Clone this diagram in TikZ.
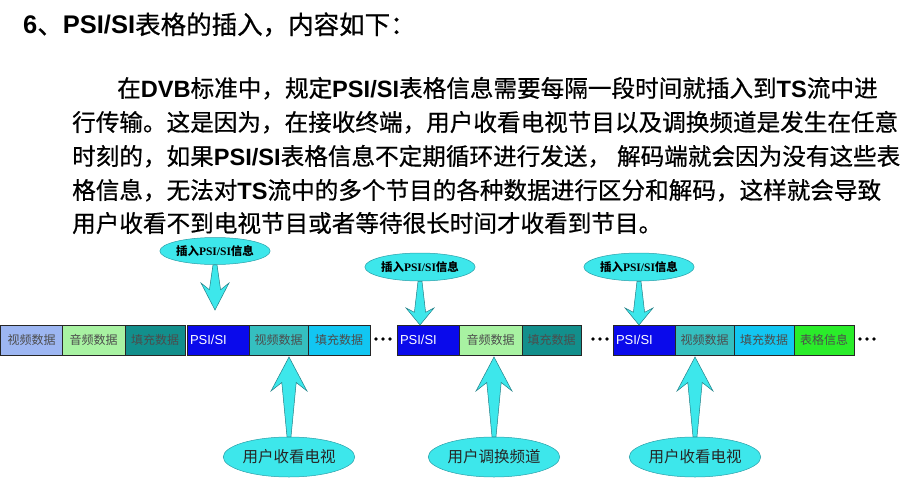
\documentclass[tikz,border=0pt]{standalone}
\usepackage{fontspec}
\setmainfont{Liberation Sans}
\newfontfamily\cjk{Noto Sans CJK SC}
\newfontfamily\cjkh[FakeBold=0.6]{Noto Sans CJK SC}
\newfontfamily\serlat{Liberation Serif}
\usetikzlibrary{calc,shapes.geometric}

\definecolor{vidblue}{HTML}{9DB6F2}
\definecolor{audgreen}{HTML}{A8F2A2}
\definecolor{fillteal}{HTML}{128F8C}
\definecolor{psiblue}{HTML}{0A0AEB}
\definecolor{vidteal}{HTML}{35BFC0}
\definecolor{fillcyan}{HTML}{12C6F2}
\definecolor{tabgreen}{HTML}{2AEC2A}
\definecolor{bubble}{HTML}{3DE7EB}
\definecolor{bubbleline}{HTML}{2A9FA8}

\newcommand{\en}[1]{{\rmfamily\bfseries #1}}

\tikzset{
  para/.style={anchor=base west,inner sep=0pt,font=\cjkh\fontsize{23.6}{24}\selectfont},
  seg/.style={draw=black!85,line width=0.8pt,minimum height=30,inner sep=0pt,outer sep=0pt,
    anchor=north west,font=\cjk\fontsize{12}{12}\selectfont,text=black!70},
  psiseg/.style={seg,fill=psiblue,text=white,align=left,text width=56,
    font=\fontsize{13}{13}\selectfont},
  insbubble/.style={ellipse,draw=bubbleline,line width=0.5pt,fill=bubble,inner sep=0pt,
    minimum width=90,minimum height=27,font=\cjk\bfseries\fontsize{11.5}{12}\selectfont},
  usrbubble/.style={ellipse,draw=bubbleline,line width=0.5pt,fill=bubble,inner sep=0pt,
    minimum width=118,minimum height=40,font=\cjk\fontsize{15.5}{16}\selectfont,text=black!85},
  fatarrow/.style={fill=bubble,draw=bubbleline!80!black,line width=0.5pt,line join=miter}
}

% tail, tip, head length, head half width
\newcommand{\fatarrow}[4]{%
  \path[fatarrow] let \p1=(#1),\p2=(#2),\n1={(\y2-\y1)/abs(\y2-\y1)} in
    (\x2,\y2) -- (\x2+#4,\y2-\n1*#3) -- (\x2+0.4*#4,\y2-\n1*0.75*#3)
    -- (\x1+2,\y1) -- (\x1-2,\y1)
    -- (\x2-0.4*#4,\y2-\n1*0.75*#3) -- (\x2-#4,\y2-\n1*#3) -- cycle;}

\begin{document}
\begin{tikzpicture}[x=1pt,y=-1pt,line cap=round]
    \useasboundingbox (0,0) rectangle (905,487);

    % title and text
    \node[para,font=\cjkh\fontsize{25.5}{26}\selectfont] (title) at (23,34)
      {\en{6}、\en{PSI/SI}表格的插入，内容如下：};
    \node[para] (l1) at (117,97) {在\en{DVB}标准中，规定\en{PSI/SI}表格信息需要每隔一段时间就插入到\en{TS}流中进};
    \node[para] (l2) at (72,131) {行传输。这是因为，在接收终端，用户收看电视节目以及调换频道是发生在任意};
    \node[para] (l3) at (72,165) {时刻的，如果\en{PSI/SI}表格信息不定期循环进行发送，\hspace{6pt}解码端就会因为没有这些表};
    \node[para] (l4) at (72,199) {格信息，无法对\en{TS}流中的多个节目的各种数据进行区分和解码，这样就会导致};
    \node[para] (l5) at (72,232) {用户收看不到电视节目或者等待很长时间才收看到节目。};

    % stream
    \node[seg,fill=vidblue,minimum width=62] (vid1) at (0.5,325) {视频数据};
    \node[seg,fill=audgreen,minimum width=63] (aud1) at (62,325) {音频数据};
    \node[seg,fill=fillteal,minimum width=60] (fill1) at (125,325) {填充数据};
    \node[psiseg,minimum width=62] (psi1) at (187,325) {PSI/SI};
    \node[seg,fill=vidteal,minimum width=59] (vid2) at (249,325) {视频数据};
    \node[seg,fill=fillcyan,minimum width=62] (fill2) at (308,325) {填充数据};

    \node[psiseg,minimum width=62] (psi2) at (397,325) {PSI/SI};
    \node[seg,fill=audgreen,minimum width=63] (aud2) at (459,325) {音频数据};
    \node[seg,fill=fillteal,minimum width=59] (fill3) at (522,325) {填充数据};

    \node[psiseg,minimum width=62] (psi3) at (613,325) {PSI/SI};
    \node[seg,fill=vidteal,minimum width=59] (vid3) at (675,325) {视频数据};
    \node[seg,fill=fillcyan,minimum width=60] (fill4) at (734,325) {填充数据};
    \node[seg,fill=tabgreen,minimum width=60] (tab1) at (794,325) {表格信息};

    \foreach \x in {376,383,390, 593,600,607, 860,867,874}
      \fill (\x,339) circle[radius=1.8pt];

    % insert bubbles
    \node[insbubble] (ins1) at (215,251) {插入{\serlat PSI/SI}信息};
    \node[insbubble,minimum height=28] (ins2) at (420,267) {插入{\serlat PSI/SI}信息};
    \node[insbubble,minimum height=28] (ins3) at (639,267) {插入{\serlat PSI/SI}信息};

    \coordinate (tip1) at (215,310);
    \coordinate (tip2) at (420,325);
    \coordinate (tip3) at (639,325);
    \fatarrow{ins1.south}{tip1}{27}{14}
    \fatarrow{ins2.south}{tip2}{17}{14}
    \fatarrow{ins3.south}{tip3}{17}{14}

    % user bubbles
    \node[usrbubble] (usr1) at (289,457) {用户收看电视};
    \node[usrbubble] (usr2) at (494,457) {用户调换频道};
    \node[usrbubble] (usr3) at (695,457) {用户收看电视};

    \coordinate (up1) at (289,357);
    \coordinate (up2) at (494,357);
    \coordinate (up3) at (695,357);
    \fatarrow{usr1.north}{up1}{34}{18}
    \fatarrow{usr2.north}{up2}{34}{18}
    \fatarrow{usr3.north}{up3}{34}{18}
\end{tikzpicture}
\end{document}
